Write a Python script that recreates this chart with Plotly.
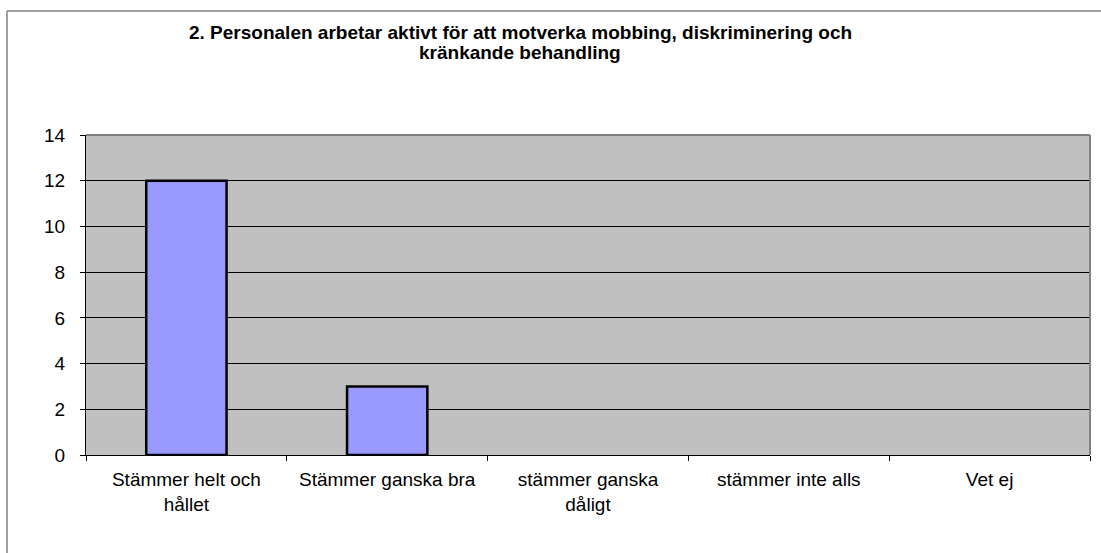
import plotly.graph_objects as go

categories = ["Stämmer helt och<br>hållet", "Stämmer ganska bra", "stämmer ganska<br>dåligt",
              "stämmer inte alls", "Vet ej"]
values = [12, 3, 0, 0, 0]
y_ticks = [0, 2, 4, 6, 8, 10, 12, 14]
title_lines = ["2. Personalen arbetar aktivt för att motverka mobbing, diskriminering och",
               "kränkande behandling"]

W, H = 1101, 553
L, R, T, B = 86, 1090, 135, 455
pw, ph = R - L, B - T

def px(x):
    return (x - L) / pw

def py(y):
    return (B - y) / ph

fig = go.Figure(go.Bar(
    x=categories, y=values,
    marker=dict(color="#9999FF",
                line=dict(color="black", width=[2.5 if v > 0 else 0 for v in values])),
    width=0.4,
))

font = "Liberation Sans, Arial, sans-serif"
title_y = [32, 52]
fig.update_layout(
    width=W, height=H,
    margin=dict(l=L, r=W - R, t=T, b=H - B, pad=0),
    paper_bgcolor="white", plot_bgcolor="#C0C0C0",
    showlegend=False,
    font=dict(family=font, size=19, color="black"),
    xaxis=dict(type="category", tickson="boundaries", ticks="outside", ticklen=5,
               tickcolor="black", showline=True, linecolor="black", linewidth=1,
               showgrid=False, range=[-0.5, 4.5], tickfont=dict(size=19),
               ticklabelstandoff=7),
    yaxis=dict(range=[0, 14], tickvals=y_ticks, ticks="outside", ticklen=5,
               tickcolor="black", showline=True, linecolor="black", linewidth=1,
               showgrid=True, gridcolor="black", gridwidth=1, zeroline=False,
               ticklabelstandoff=11, tickfont=dict(size=19)),
    annotations=[dict(text="<b>" + t + "</b>",
                      x=px(520), y=py(yc), xref="paper", yref="paper",
                      xanchor="center", yanchor="middle", showarrow=False,
                      font=dict(size=19, family=font))
                 for t, yc in zip(title_lines, title_y)],
    shapes=[
        dict(type="line", xref="paper", yref="paper", x0=0, x1=1, y0=1, y1=1,
             line=dict(color="#808080", width=2)),
        dict(type="line", xref="paper", yref="paper", x0=1, x1=1, y0=0, y1=1,
             line=dict(color="#808080", width=2)),
        dict(type="line", xref="paper", yref="paper", x0=px(7), x1=px(W + 5), y0=py(11), y1=py(11),
             line=dict(color="#808080", width=1.5)),
        dict(type="line", xref="paper", yref="paper", x0=px(7), x1=px(7), y0=py(11), y1=py(H + 5),
             line=dict(color="#808080", width=1.5)),
    ],
)

fig.write_html("out.html", config={"displayModeBar": False})
with open("out.html", encoding="utf-8") as f:
    html = f.read()
html = html.replace("<head>", "<head><style>html,body{margin:0;padding:0;overflow:hidden}</style>", 1)
with open("out.html", "w", encoding="utf-8") as f:
    f.write(html)
